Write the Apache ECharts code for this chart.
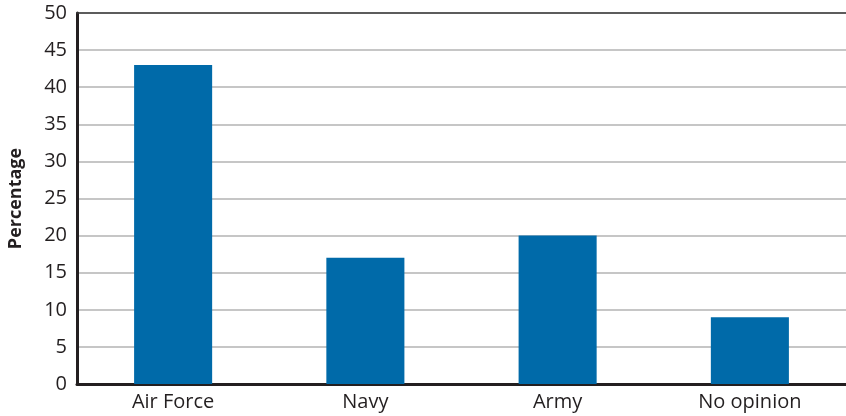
<!DOCTYPE html>
<html><head><meta charset="utf-8">
<script src="https://cdn.jsdelivr.net/npm/echarts@6/dist/echarts.min.js"></script>
<style>html,body{margin:0;padding:0;background:#fff}#c{width:846px;height:416px}</style>
</head><body><div id="c"></div>
<script>
const categories = ["Air Force", "Navy", "Army", "No opinion"];
const values = [43, 17, 20, 9];
const yTicks = [0, 5, 10, 15, 20, 25, 30, 35, 40, 45, 50];
const yTitle = "Percentage";

const chart = echarts.init(document.getElementById('c'), null, {renderer: 'canvas'});
chart.setOption({
  animation: false,
  grid: {left: 77, right: 0, top: 13, bottom: 32, containLabel: false, outerBoundsMode: 'none'},
  xAxis: [{
    type: 'category', data: categories,
    axisLine: {lineStyle: {color: '#231f20', width: 3}},
    axisTick: {show: false},
    axisLabel: {color: '#231f20', fontSize: 20, fontFamily: 'Open Sans', margin: 8}
  }, {
    type: 'category', data: categories, position: 'top',
    axisLine: {show: true, lineStyle: {color: '#3a3a3a', width: 1.5}},
    axisTick: {show: false}, axisLabel: {show: false}, splitLine: {show: false}
  }],
  yAxis: {
    type: 'value', min: yTicks[0], max: yTicks[yTicks.length - 1], interval: 5,
    name: yTitle, nameLocation: 'middle', nameGap: 52, nameRotate: 90,
    nameTextStyle: {color: '#231f20', fontSize: 18, fontWeight: 'bold', fontFamily: 'Open Sans'},
    axisLine: {show: true, lineStyle: {color: '#231f20', width: 3}},
    axisTick: {show: false},
    axisLabel: {color: '#231f20', fontSize: 20, fontFamily: 'Open Sans', margin: 10},
    splitLine: {lineStyle: {color: '#b3b3b3', width: 1.5}}
  },
  series: [{
    type: 'bar', data: values, barWidth: '40.6%',
    itemStyle: {color: '#006aa9'}
  }]
});
</script></body></html>
